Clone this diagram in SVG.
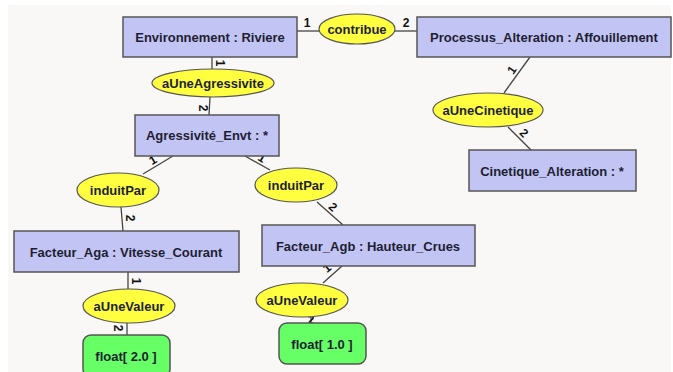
<svg xmlns="http://www.w3.org/2000/svg" width="673" height="372" viewBox="0 0 673 372">
<style>
.box{fill:#c2c5f4;stroke:#555;stroke-width:1.5}
.val{fill:#66ff66;stroke:#555;stroke-width:1.5}
.rel{fill:#ffff40;stroke:#555;stroke-width:1.2}
.t{font-family:"Liberation Sans",Arial,sans-serif;font-weight:bold;font-size:13px;fill:#1e1e33;text-anchor:middle;dominant-baseline:central}
.m{font-family:"Liberation Sans",Arial,sans-serif;font-weight:bold;font-size:12px;fill:#111;text-anchor:middle;dominant-baseline:central}
#connectors line{stroke:#444;stroke-width:1.3}
</style>
<rect x="0" y="0" width="673" height="372" fill="#ffffff"/>
<rect x="8" y="5" width="663" height="367" fill="#f9f8f7"/>
<g id="connectors">
<line x1="297" y1="31" x2="319" y2="31"/>
<line x1="395" y1="31" x2="417" y2="31"/>
<line x1="212" y1="57" x2="212" y2="69"/>
<line x1="210" y1="97" x2="209" y2="115"/>
<line x1="173" y1="156" x2="143" y2="174"/>
<line x1="245" y1="156" x2="270" y2="170"/>
<line x1="121" y1="207" x2="123" y2="231"/>
<line x1="317" y1="202" x2="343" y2="225"/>
<line x1="128" y1="272" x2="128" y2="289"/>
<line x1="127" y1="323" x2="127" y2="335"/>
<line x1="342" y1="266" x2="323" y2="283"/>
<line x1="311" y1="317" x2="311" y2="323"/>
<line x1="530" y1="57" x2="504" y2="93"/>
<line x1="508" y1="127" x2="531" y2="150"/>
<text class="m" x="307" y="23">1</text>
<text class="m" x="406" y="23">2</text>
<text class="m" transform="translate(220,63) rotate(90)">1</text>
<text class="m" transform="translate(203,108) rotate(90)">2</text>
<text class="m" transform="translate(153,160) rotate(-30)">1</text>
<text class="m" transform="translate(262,158) rotate(30)">1</text>
<text class="m" transform="translate(130,218) rotate(90)">2</text>
<text class="m" transform="translate(333,207) rotate(42)">2</text>
<text class="m" transform="translate(136,281) rotate(90)">1</text>
<text class="m" transform="translate(118,328) rotate(90)">2</text>
<text class="m" transform="translate(327,268) rotate(-40)">1</text>
<text class="m" x="311" y="320">2</text>
<text class="m" transform="translate(512,70) rotate(-55)">1</text>
<text class="m" transform="translate(524,133) rotate(45)">2</text>
</g>
<g id="env"><rect class="box" x="123" y="17" width="174" height="40"/><text class="t" x="210" y="37">Environnement : Riviere</text></g>
<g id="contribue"><ellipse class="rel" cx="357" cy="29" rx="38" ry="15"/><text class="t" x="357" y="29">contribue</text></g>
<g id="processus"><rect class="box" x="417" y="17" width="254" height="40"/><text class="t" x="544" y="37">Processus_Alteration : Affouillement</text></g>
<g id="aUneAgressivite"><ellipse class="rel" cx="213" cy="83" rx="61" ry="14"/><text class="t" x="213" y="83">aUneAgressivite</text></g>
<g id="agressivite"><rect class="box" x="135" y="115" width="144" height="41"/><text class="t" x="207" y="135">Agressivité_Envt : *</text></g>
<g id="induitPar1"><ellipse class="rel" cx="118" cy="190" rx="41" ry="17"/><text class="t" x="118" y="190">induitPar</text></g>
<g id="induitPar2"><ellipse class="rel" cx="296" cy="185" rx="41" ry="17"/><text class="t" x="296" y="185">induitPar</text></g>
<g id="facteurAga"><rect class="box" x="14" y="231" width="225" height="41"/><text class="t" x="126" y="252">Facteur_Aga : Vitesse_Courant</text></g>
<g id="facteurAgb"><rect class="box" x="262" y="225" width="213" height="41"/><text class="t" x="368" y="246">Facteur_Agb : Hauteur_Crues</text></g>
<g id="aUneValeur1"><ellipse class="rel" cx="129" cy="306" rx="46" ry="17"/><text class="t" x="129" y="306">aUneValeur</text></g>
<g id="aUneValeur2"><ellipse class="rel" cx="302" cy="300" rx="46" ry="17"/><text class="t" x="302" y="300">aUneValeur</text></g>
<g id="float2"><rect class="val" x="83" y="335" width="87" height="42" rx="8"/><text class="t" x="126" y="356">float[ 2.0 ]</text></g>
<g id="float1"><rect class="val" x="279" y="323" width="87" height="41" rx="8"/><text class="t" x="322" y="344">float[ 1.0 ]</text></g>
<g id="aUneCinetique"><ellipse class="rel" cx="488" cy="110" rx="55" ry="17"/><text class="t" x="488" y="110">aUneCinetique</text></g>
<g id="cinetique"><rect class="box" x="469" y="150" width="167" height="41"/><text class="t" x="552" y="171">Cinetique_Alteration : *</text></g>
</svg>
